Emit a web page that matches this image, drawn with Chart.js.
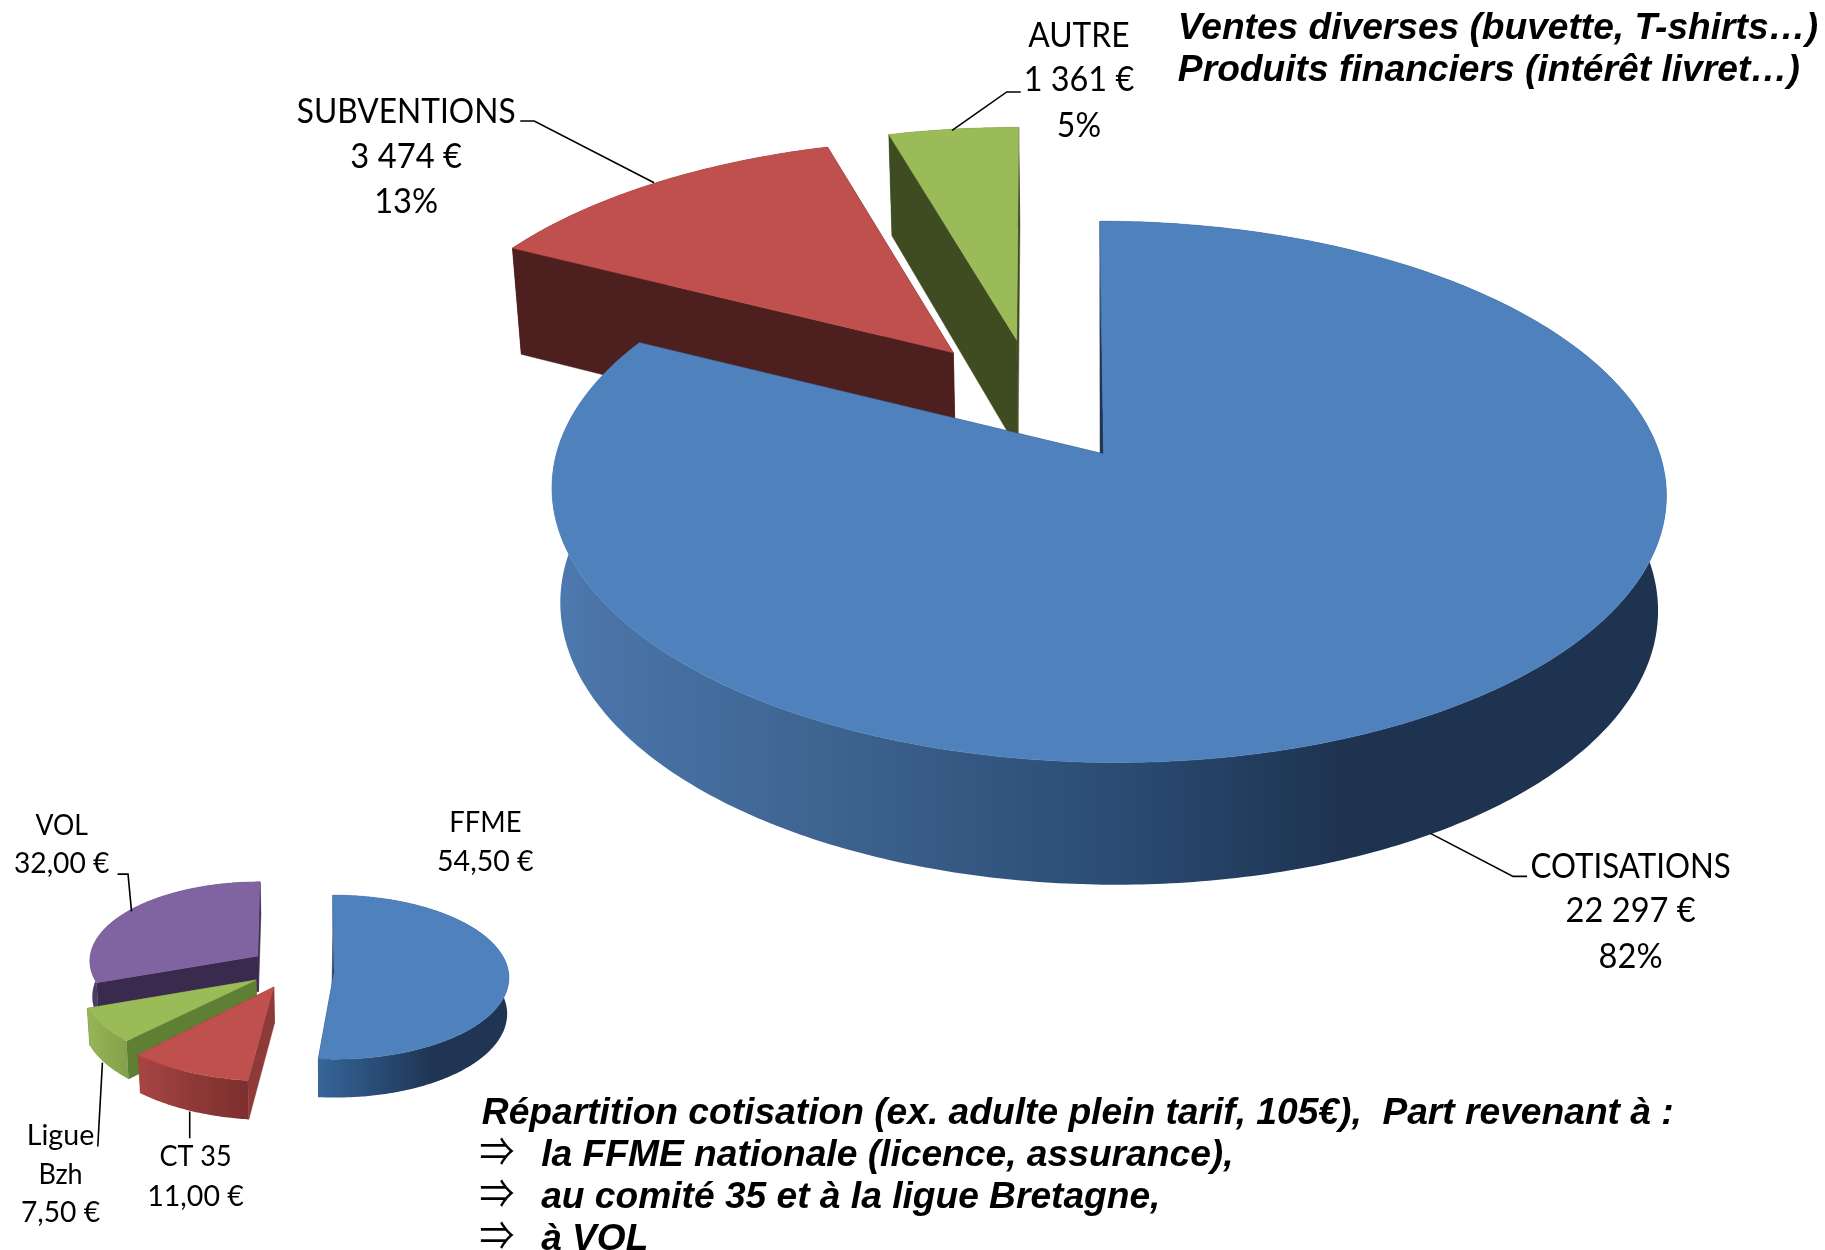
<!DOCTYPE html>
<html lang="fr"><head><meta charset="utf-8">
<script src="https://cdn.jsdelivr.net/npm/chart.js@4"></script>
<style>html,body{margin:0;padding:0;background:#fff}canvas{position:absolute;left:0;top:0}</style>
</head><body>
<canvas id="big" width="1825" height="1250"></canvas>
<canvas id="small" width="1825" height="1250"></canvas>
<script>
const categoriesBig = ['COTISATIONS','SUBVENTIONS','AUTRE'];
const valuesBig = [22297,3474,1361];
const categoriesSmall = ['FFME','CT 35','Ligue Bzh','VOL'];
const valuesSmall = [54.5,11,7.5,32];
const colorsBig = ['#4f81bd','#c0504d','#9bbb59'];
const colorsSmall = ['#4f81bd','#c0504d','#9bbb59','#8064a2'];

const k = 1825/1568;
const FONT = 'Lato, Carlito, sans-serif';
const BI = '"Liberation Sans", Arial, sans-serif';

function fmtBig(v){return String(v).replace(/\B(?=(\d{3})+$)/g,' ')+' €';}
function fmtSmall(v){return v.toFixed(2).replace('.',',')+' €';}
const sumBig = valuesBig.reduce((a,b)=>a+b,0);
function pct(v){return Math.round(v/sumBig*100)+'%';}

const viewBig = {cx:952,by:390,a:228,c:-0.14,s:474,shear:7,d0:97.6,d1:7.4,shrink:0.985,cutDx:-3,
  shift:[[0,0],[-0.29,-0.403],[-0.169,-0.457]], r:[1,1.02,1.03],
  apex:[[-0.008,0],[0,0],[0,0]], rot:[0,1.4,2.1], endAdj:[0.6,0,-2.1],
  cut:['#1f3552','#4d1f1f','#3f4b20'],
  wall:[[[0,'#4e7ab0'],[.045,'#4a74a8'],[.24,'#3e6490'],[.5,'#2b4d75'],[.71,'#1e3350'],[1,'#1e3350']],
        [[0,'#4d1f1f'],[1,'#4d1f1f']],[[0,'#3f4b20'],[1,'#3f4b20']]]};
const viewSmall = {cx:287,by:836,a:70.3,c:-0.05,s:150,shear:1,d0:31,d1:2,shrink:0.99,cutDx:-2,
  shift:[[0,0],[-0.343,0.17],[-0.445,0.085],[-0.44,-0.21]], r:[1,1.07,1,0.97],
  apex:[[0,0],[0,0],[0,0],[0,0]], rot:[0,0,0,0], endAdj:[-1.6,-1.5,0,0],
  cut:['#1f3552','#8e3a38','#5f7f35','#3a2a4d'],
  wall:[[[0,'#36669a'],[.3,'#2a4c76'],[.6,'#1f3553'],[1,'#1f3553']],
        [[0,'#a84543'],[.55,'#8c3836'],[1,'#7c2f2d']],
        [[0,'#98b558'],[1,'#84a04a']],[[0,'#4d3c66'],[1,'#3a2a4d']]]};

function proj(V,i,X,Y,z){
  const xx=X*V.r[i]+V.shift[i][0], yy=Y*V.r[i]+V.shift[i][1];
  const w=1+V.c*yy, f=z?V.shrink:1;
  return [k*(V.cx+V.shear*yy+f*V.s*xx/w), k*(V.by+V.a*yy/w+(z?V.d0+V.d1*yy:0))];
}
function poly(ctx,pts,fill){
  ctx.beginPath();pts.forEach((p,j)=>j?ctx.lineTo(p[0],p[1]):ctx.moveTo(p[0],p[1]));
  ctx.closePath();ctx.fillStyle=fill;ctx.fill();
  ctx.strokeStyle=fill;ctx.lineWidth=.5;ctx.stroke();
}
function drawSlice(ctx,V,i,el,color){
  const deg=Math.PI/180,rot=V.rot[i]*deg;
  const a0=el.startAngle+rot,a1=el.endAngle+rot+V.endAdj[i]*deg,n=Math.max(8,Math.ceil((a1-a0)/0.012));
  const topArc=[],botArc=[];
  for(let j=0;j<=n;j++){const t=a0+(a1-a0)*j/n,X=Math.cos(t),Y=Math.sin(t);
    topArc.push(proj(V,i,X,Y,0));botArc.push(proj(V,i,X,Y,1));}
  const ax=V.apex[i][0]/V.r[i],ay=V.apex[i][1]/V.r[i];
  const at=proj(V,i,ax,ay,0),ab=proj(V,i,ax,ay,1);
  if(i===0)ab[0]+=V.cutDx*k;
  poly(ctx,[at,topArc[0],botArc[0],ab],V.cut[i]);
  poly(ctx,[at,topArc[n],botArc[n],ab],V.cut[i]);
  const xs=topArc.concat(botArc).map(p=>p[0]),x0=Math.min(...xs),x1=Math.max(...xs);
  const g=ctx.createLinearGradient(x0,0,x1,0);V.wall[i].forEach(s=>g.addColorStop(s[0],s[1]));
  ctx.beginPath();
  topArc.forEach((p,j)=>j?ctx.lineTo(p[0],p[1]):ctx.moveTo(p[0],p[1]));
  botArc.slice().reverse().forEach(p=>ctx.lineTo(p[0],p[1]));
  ctx.closePath();ctx.fillStyle=g;ctx.fill();
  poly(ctx,[at].concat(topArc),color);
}
function label(ctx,text,cx,y,w,size){
  ctx.font=size+'px '+FONT;ctx.fillStyle='#000';ctx.textAlign='center';ctx.textBaseline='middle';
  ctx.fillText(text,cx*k,(y+1)*k,w*k);
}
function leader(ctx,pts){
  ctx.beginPath();pts.forEach((p,j)=>j?ctx.lineTo(p[0]*k,p[1]*k):ctx.moveTo(p[0]*k,p[1]*k));
  ctx.strokeStyle='#000';ctx.lineWidth=1.6;ctx.stroke();
}
function boldText(ctx,text,x,y,w){
  ctx.font='italic bold 37.2px '+BI;ctx.fillStyle='#000';ctx.textAlign='left';ctx.textBaseline='middle';
  ctx.fillText(text,x*k,(y+2)*k,w*k);
}
function arrow(ctx,x,y){
  ctx.font='40px "Liberation Serif","Noto Sans CJK JP","DejaVu Sans"';ctx.fillStyle='#000';ctx.textAlign='left';ctx.textBaseline='middle';
  ctx.fillText('\u21D2',x*k,y*k,30*k);
}

function pie3d(view,colors,after){
  return {id:'pie3d',beforeDatasetsDraw(chart){
    const ctx=chart.ctx,els=chart.getDatasetMeta(0).data;
    const order=els.map((e,i)=>i).sort((p,q)=>view.shift[p][1]-view.shift[q][1]);
    ctx.save();
    order.forEach(i=>drawSlice(ctx,view,i,els[i],colors[i]));
    after(ctx);
    ctx.restore();
    return false;
  }};
}
function makeChart(id,labels,data,colors,plugin){
  return new Chart(document.getElementById(id),{type:'pie',
    data:{labels,datasets:[{data,backgroundColor:colors,borderWidth:0}]},
    options:{responsive:false,animation:false,events:[],rotation:0,
      plugins:{legend:{display:false},tooltip:{enabled:false}}},
    plugins:[plugin]});
}

makeChart('big',categoriesBig,valuesBig,colorsBig,pie3d(viewBig,colorsBig,ctx=>{
  leader(ctx,[[447,104],[459,104],[562,157]]);
  leader(ctx,[[877,79],[865,79],[818,112]]);
  leader(ctx,[[1229,716],[1300,753],[1312,753]]);
  label(ctx,categoriesBig[0],1401,744,172,34);
  label(ctx,fmtBig(valuesBig[0]),1401,782,112,34);
  label(ctx,pct(valuesBig[0]),1401,821,55,34);
  label(ctx,categoriesBig[1],349,95,188,34);
  label(ctx,fmtBig(valuesBig[1]),349,134,96,34);
  label(ctx,pct(valuesBig[1]),349,173,55,34);
  label(ctx,categoriesBig[2],927,30,87,34);
  label(ctx,fmtBig(valuesBig[2]),927,68,95,34);
  label(ctx,pct(valuesBig[2]),927,107,38,34);
  boldText(ctx,'Ventes diverses (buvette, T-shirts…)',1012,23,550);
  boldText(ctx,'Produits financiers (intérêt livret…)',1012,59,535);
  boldText(ctx,'Répartition cotisation (ex. adulte plein tarif, 105€),  Part revenant à :',414,955,1024);
  arrow(ctx,412,993);boldText(ctx,'la FFME nationale (licence, assurance),',465,991,595);
  arrow(ctx,412,1029);boldText(ctx,'au comité 35 et à la ligue Bretagne,',465,1027,532);
  arrow(ctx,412,1065);boldText(ctx,'à VOL',465,1063,92);
}));
makeChart('small',categoriesSmall,valuesSmall,colorsSmall,pie3d(viewSmall,colorsSmall,ctx=>{
  leader(ctx,[[101,751],[110,751],[113,783]]);
  leader(ctx,[[88,913],[84,985]]);
  leader(ctx,[[163,955],[163,978]]);
  label(ctx,categoriesSmall[0],417,706,62,29);
  label(ctx,fmtSmall(valuesSmall[0]),417,739,83,29);
  label(ctx,categoriesSmall[1],168,993,62,29);
  label(ctx,fmtSmall(valuesSmall[1]),168,1027,83,29);
  const parts=categoriesSmall[2].split(' ');
  label(ctx,parts[0],52,975,58,29);
  label(ctx,parts[1],52,1008,38,29);
  label(ctx,fmtSmall(valuesSmall[2]),52,1041,68,29);
  label(ctx,categoriesSmall[3],53,708,45,29);
  label(ctx,fmtSmall(valuesSmall[3]),53,741,82,29);
}));
</script>
</body></html>
